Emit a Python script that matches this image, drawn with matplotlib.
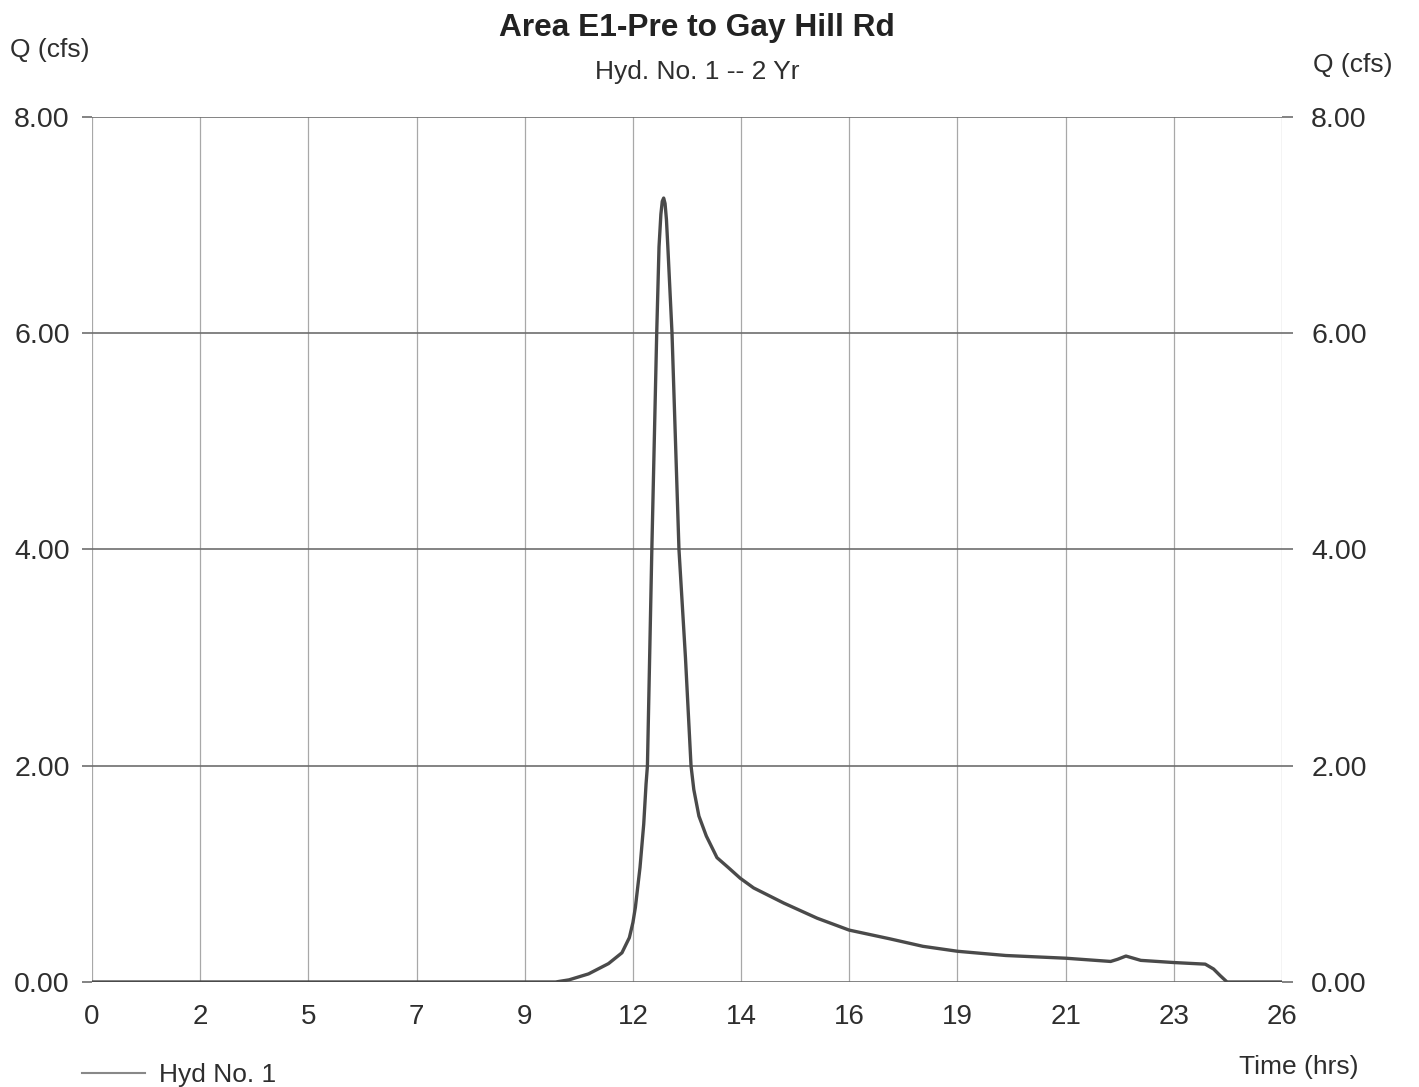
import numpy as np
import matplotlib.pyplot as plt

plt.rcParams['font.family'] = ['Liberation Sans', 'DejaVu Sans']

# hydrograph ordinates (hrs, cfs)
time_hrs = [0.0, 10.0, 10.29, 10.71, 11.14, 11.43, 11.59, 11.667, 11.72, 11.82,
            11.90, 11.95, 11.98, 12.075, 12.18, 12.23, 12.27, 12.30, 12.33, 12.36,
            12.39, 12.42, 12.51, 12.66, 12.80, 12.92, 12.98, 13.09, 13.25, 13.48,
            13.72, 13.98, 14.27, 14.92, 15.64, 16.33, 17.2, 17.92, 18.67, 19.71,
            21.0, 21.97, 22.12, 22.3, 22.62, 23.33, 24.01, 24.19, 24.33, 24.48,
            25.667]
flow_cfs = [0.0, 0.0, 0.02, 0.075, 0.17, 0.27, 0.41, 0.55, 0.69, 1.06,
            1.46, 1.83, 2.0, 4.0, 6.0, 6.8, 7.1, 7.22, 7.25, 7.2,
            7.05, 6.8, 6.0, 4.0, 3.0, 2.0, 1.78, 1.535, 1.35, 1.15,
            1.06, 0.96, 0.87, 0.73, 0.59, 0.48, 0.40, 0.33, 0.284, 0.245,
            0.22, 0.19, 0.21, 0.24, 0.20, 0.18, 0.165, 0.12, 0.06, 0.0,
            0.0]

t_end = 25.667
x_ticks = np.linspace(0, t_end, 12)
x_labels = [str(int(round(v))) for v in x_ticks]
y_ticks = [0, 2, 4, 6, 8]
y_labels = ['%.2f' % v for v in y_ticks]

hgrid = '#6e6e6e'
vgrid = '#a8a8a8'
txt = '#2e2e2e'

fig = plt.figure(figsize=(14.19, 10.87), dpi=100)
ax = fig.add_axes([0.0648, 0.0966, 0.8387, 0.7958])

ax.plot(time_hrs, flow_cfs, color='#4a4a4a', lw=2.4, label='Hyd No. 1',
        solid_joinstyle='round', zorder=3)

ax.set_xlim(0, t_end)
ax.set_ylim(0, 8)
for s in ax.spines.values():
    s.set_visible(False)

ax.set_xticks(x_ticks)
ax.set_xticklabels(x_labels)
ax.set_yticks(y_ticks)
ax.set_yticklabels(y_labels)
ax.xaxis.grid(True, color=vgrid, lw=0.9)
ax.yaxis.grid(True, color=hgrid, lw=1.2)
ax.tick_params(axis='x', length=0, pad=16, labelsize=20, labelcolor=txt)
ax.tick_params(axis='y', length=7, width=1.2, color=hgrid, pad=9,
               labelsize=20.5, labelcolor=txt)

# right-hand axis repeats the flow scale
ax2 = ax.twinx()
ax2.set_ylim(ax.get_ylim())
ax2.set_yticks(y_ticks)
ax2.set_yticklabels(y_labels)
for s in ax2.spines.values():
    s.set_visible(False)
ax2.tick_params(axis='y', length=8, width=1.2, color=hgrid, pad=13,
                labelsize=20.5, labelcolor=txt)

ax.set_xlabel('Time (hrs)', fontsize=19, color=txt, ha='right', va='center')
ax.xaxis.set_label_coords(1.064, -0.098)
ax.text(-0.069, 1.077, 'Q (cfs)', transform=ax.transAxes, fontsize=19,
        color=txt, ha='left', va='center')
ax.text(1.026, 1.060, 'Q (cfs)', transform=ax.transAxes, fontsize=19,
        color=txt, ha='left', va='center')

fig.text(697 / 1419, 1 - 28 / 1087, 'Area E1-Pre to Gay Hill Rd', fontsize=22.8,
         fontweight='bold', color='#222222', ha='center', va='center')
fig.text(697 / 1419, 1 - 72 / 1087, 'Hyd. No. 1 -- 2 Yr', fontsize=19,
         color=txt, ha='center', va='center')

leg = ax.legend(loc='center left', bbox_to_anchor=(82 / 1419, 1 - 1075 / 1087),
                bbox_transform=fig.transFigure, frameon=False, fontsize=19,
                handlelength=2.4, handletextpad=0.5, borderpad=0,
                borderaxespad=0)
for t in leg.get_texts():
    t.set_color(txt)
leg.get_lines()[0].set_color('#888888')
leg.get_lines()[0].set_linewidth(1.5)

fig.savefig('out.png', dpi=100, facecolor='white')
